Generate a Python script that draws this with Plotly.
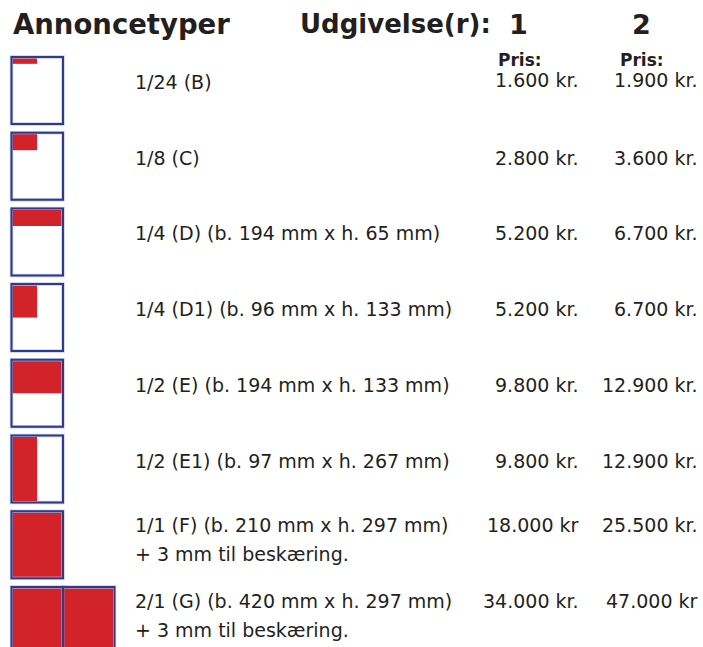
import plotly.graph_objects as go

# ---- data ----
ad_labels = [
    "1/24 (B)",
    "1/8 (C)",
    "1/4 (D) (b. 194 mm x h. 65 mm)",
    "1/4 (D1) (b. 96 mm x h. 133 mm)",
    "1/2 (E) (b. 194 mm x h. 133 mm)",
    "1/2 (E1) (b. 97 mm x h. 267 mm)",
    "1/1 (F) (b. 210 mm x h. 297 mm)",
    "2/1 (G) (b. 420 mm x h. 297 mm)",
]
ad_notes = ["", "", "", "", "", "", "+ 3 mm til beskæring.", "+ 3 mm til beskæring."]
price_1 = ["1.600 kr.", "2.800 kr.", "5.200 kr.", "5.200 kr.", "9.800 kr.", "9.800 kr.", "18.000 kr", "34.000 kr."]
price_2 = ["1.900 kr.", "3.600 kr.", "6.700 kr.", "6.700 kr.", "12.900 kr.", "12.900 kr.", "25.500 kr.", "47.000 kr"]
fill_width = [0.5, 0.5, 1, 0.5, 1, 0.5, 1, 1]      # fraction of page width
fill_height = [1/12, 1/4, 1/4, 1/2, 1/2, 1, 1, 1]  # fraction of page height
pages = [1, 1, 1, 1, 1, 1, 1, 2]
issue_labels = ["1", "2"]
header_title = "Annoncetyper"
header_issues = "Udgivelse(r):"
price_header = "Pris:"

# ---- layout constants ----
W, H = 703, 647
ROW0, STEP = 57.0, 75.7
PAGE_X0, PAGE_W, PAGE_H = 11.5, 51.5, 67.0
BLUE = "#2E3A8F"
RED = "#D2232A"
TXT = "#231F20"
FONT = "DejaVu Sans"
FS = 19

shapes = []
annotations = []

for i in range(len(ad_labels)):
    top = ROW0 + i * STEP
    for p in range(pages[i]):
        x0 = PAGE_X0 + p * PAGE_W
        x1 = x0 + PAGE_W
        ix0, ix1 = x0 + 1.2, x1 - 1.5
        iy0, iy1 = top + 1.5, top + PAGE_H - 1.5
        shapes.append(dict(type="rect", xref="x", yref="y",
                           x0=ix0, x1=ix0 + (ix1 - ix0) * fill_width[i],
                           y0=iy0, y1=iy0 + (iy1 - iy0) * fill_height[i],
                           fillcolor=RED, line=dict(width=0), layer="above"))
        shapes.append(dict(type="rect", xref="x", yref="y",
                           x0=x0, x1=x1, y0=top, y1=top + PAGE_H,
                           line=dict(color="rgba(46,58,143,0.25)", width=3.5),
                           fillcolor="rgba(0,0,0,0)", layer="above"))
        shapes.append(dict(type="rect", xref="x", yref="y",
                           x0=x0, x1=x1, y0=top, y1=top + PAGE_H,
                           line=dict(color=BLUE, width=2),
                           fillcolor="rgba(0,0,0,0)", layer="above"))

    if ad_notes[i]:
        y1 = top + 14
        annotations.append(dict(x=133, y=top + 43, text=ad_notes[i], xanchor="left", yanchor="middle",
                                showarrow=False, font=dict(family=FONT, size=FS, color=TXT)))
    else:
        y1 = top + 25
    annotations.append(dict(x=133, y=y1, text=ad_labels[i], xanchor="left", yanchor="middle",
                            showarrow=False, font=dict(family=FONT, size=FS, color=TXT)))
    py = y1 - 2 if i == 0 else y1
    annotations.append(dict(x=581, y=py, text=price_1[i], xanchor="right", yanchor="middle",
                            showarrow=False, font=dict(family=FONT, size=FS, color=TXT)))
    annotations.append(dict(x=700, y=py, text=price_2[i], xanchor="right", yanchor="middle",
                            showarrow=False, font=dict(family=FONT, size=FS, color=TXT)))

HF = 27
annotations.append(dict(x=11, y=24, text="<b>%s</b>" % header_title, xanchor="left", yanchor="middle",
                        showarrow=False, font=dict(family=FONT, size=HF + 0.5, color=TXT)))
annotations.append(dict(x=298, y=24, text="<b>%s</b>" % header_issues, xanchor="left", yanchor="middle",
                        showarrow=False, font=dict(family=FONT, size=HF - 1, color=TXT)))
for lbl, xx in zip(issue_labels, [507, 630]):
    annotations.append(dict(x=xx, y=24, text="<b>%s</b>" % lbl, xanchor="left", yanchor="middle",
                            showarrow=False, font=dict(family=FONT, size=HF, color=TXT)))
for xx in [496, 618]:
    annotations.append(dict(x=xx, y=60, text="<b>%s</b>" % price_header, xanchor="left", yanchor="middle",
                            showarrow=False, font=dict(family=FONT, size=17, color=TXT)))

fig = go.Figure()
fig.add_trace(go.Scatter(x=[0, W], y=[0, H], mode="markers", marker=dict(opacity=0), hoverinfo="skip",
                         showlegend=False))
fig.update_layout(
    width=W, height=H, margin=dict(l=0, r=0, t=0, b=0),
    paper_bgcolor="white", plot_bgcolor="white",
    xaxis=dict(range=[0, W], visible=False, fixedrange=True),
    yaxis=dict(range=[H, 0], visible=False, fixedrange=True),
    shapes=shapes, annotations=annotations, showlegend=False,
)
fig.write_html("out.html", config={"displayModeBar": False, "staticPlot": True},
               post_script="document.body.style.margin='0';document.body.style.overflow='hidden';")
